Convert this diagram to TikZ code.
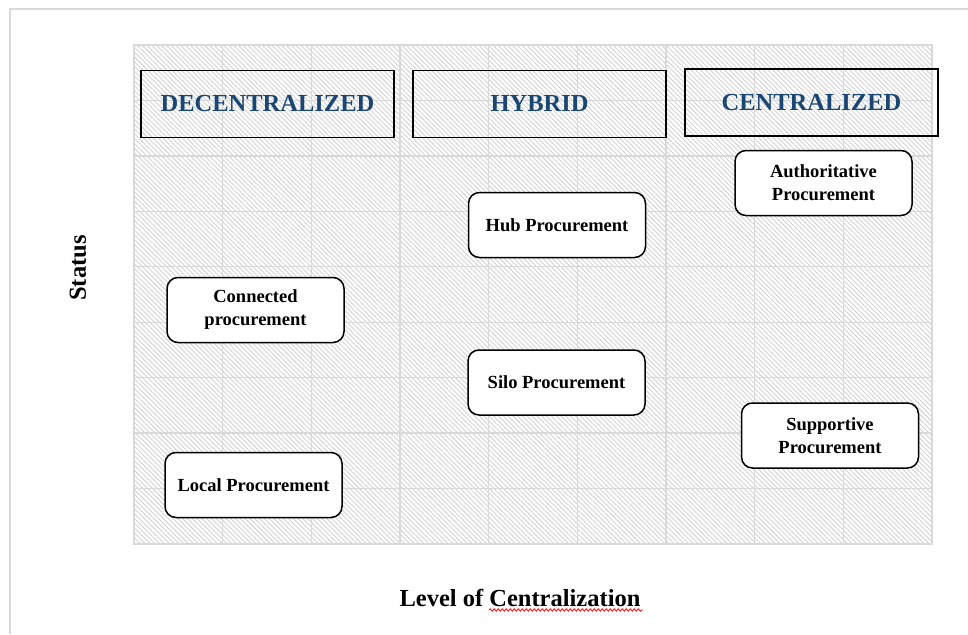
\documentclass[tikz,border=0pt]{standalone}
\usepackage{fontspec}
\setmainfont{Liberation Serif}
\usepackage{xcolor}
\usetikzlibrary{patterns.meta}
\usetikzlibrary{decorations.pathmorphing}

\definecolor{headblue}{RGB}{26,70,115}
\definecolor{gridgray}{RGB}{217,217,217}
\definecolor{hatchgray}{RGB}{210,210,210}

\tikzset{
  catbox/.style={draw=black, line width=1.5pt, minimum width=253pt, minimum height=67pt,
    text=headblue, font=\bfseries\fontsize{24.5}{28}\selectfont},
  procbox/.style={draw=black, fill=white, line width=1.5pt, rounded corners=11pt,
    minimum width=177pt, minimum height=65pt, align=center,
    font=\bfseries\fontsize{18.5}{23}\selectfont},
  axislabel/.style={font=\bfseries\fontsize{24.5}{28}\selectfont}
}

\begin{document}
\begin{tikzpicture}[x=1pt,y=-1pt]
\useasboundingbox (0,0) rectangle (968,634);

% page frame
\draw[gridgray, line width=1.5pt] (10,634) -- (10,9) -- (968,9);

% hatched background and grid
\fill[pattern={Lines[angle=-45,distance=3.4pt,line width=0.9pt]}, pattern color=hatchgray] (134,45) rectangle (932,544);
\begin{scope}[shift={(134,45)}]
\draw[gridgray, line width=1.4pt] (0,0) grid[xstep=88.667pt, ystep=55.444pt] (798.1,499);
\end{scope}
\draw[gridgray, line width=1.4pt] (134,45) rectangle (932,544);

% categories
\node[catbox] (decent) at (267.5,104) {DECENTRALIZED};
\node[catbox] (hybrid) at (539.5,104) {HYBRID};
\node[catbox] (central) at (811.5,102.5) {CENTRALIZED};

% procurement types
\node[procbox] (auth) at (823.5,183) {Authoritative\\Procurement};
\node[procbox] (hub) at (557,225) {Hub Procurement};
\node[procbox] (connected) at (255.5,310) {Connected\\procurement};
\node[procbox] (silo) at (556.5,382.5) {Silo Procurement};
\node[procbox] (supportive) at (830,435.5) {Supportive\\Procurement};
\node[procbox] (local) at (253.5,485) {Local Procurement};

% axes
\node[axislabel] (xlab) at (520,598) {Level of Centralization};
\node[axislabel, rotate=90] (ylab) at (78,268) {Status};
\draw[red, line width=0.8pt, decorate, decoration={snake, amplitude=1.2pt, segment length=4pt}] (489,610) -- (643,610);

\end{tikzpicture}
\end{document}
